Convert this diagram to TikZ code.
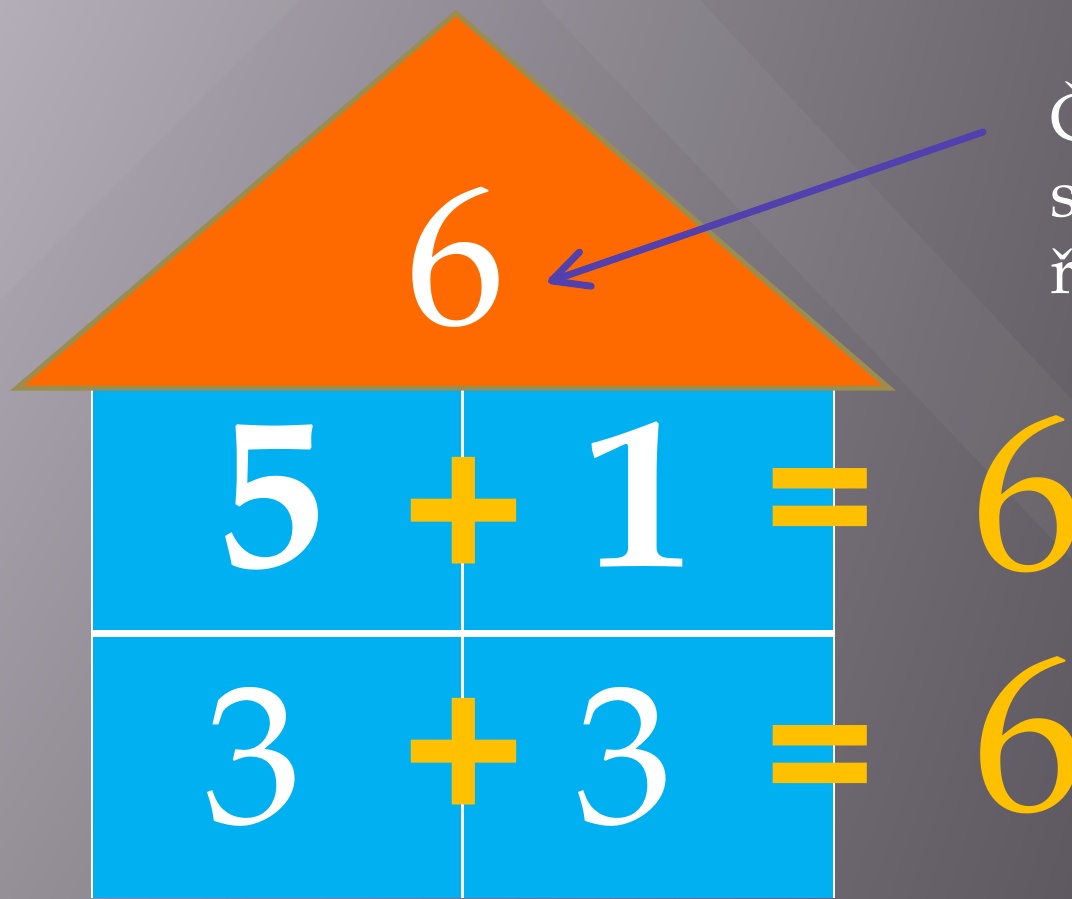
\documentclass[tikz,border=0pt]{standalone}
\usepackage{fontspec}
\setmainfont{TeX Gyre Pagella}
\newfontfamily\opfont{Liberation Sans}
\newfontfamily\eqfont{Carlito}
\usetikzlibrary{arrows.meta,shadings}
\definecolor{roof}{HTML}{FF6A00}
\definecolor{roofline}{HTML}{9C8C4E}
\definecolor{wall}{HTML}{00B0F0}
\definecolor{yel}{HTML}{FFC000}
\definecolor{arr}{HTML}{5140AE}
\definecolor{bgTL}{HTML}{B0ABB5}
\definecolor{bgTR}{HTML}{6C676E}
\definecolor{bgBL}{HTML}{959098}
\definecolor{bgBR}{HTML}{5E5960}
\tikzset{
  digit/.style={text=white, inner sep=0pt, anchor=base},
  result/.style={text=yel, inner sep=0pt, anchor=base, font=\fontsize{222}{222}\selectfont},
  plusop/.style={text=yel, inner sep=0pt, anchor=base, font=\opfont\bfseries\fontsize{210}{210}\selectfont},
  eqop/.style={text=yel, inner sep=0pt, anchor=base, font=\eqfont\bfseries\fontsize{224}{224}\selectfont},
  sidetext/.style={text=white, inner sep=0pt, anchor=base west, font=\fontsize{66}{66}\selectfont},
  gridline/.style={draw=white},
  pointer/.style={draw=arr, line width=7pt, line cap=round, line join=round, -{Straight Barb[length=36pt,width=36pt,round]}}
}
\begin{document}
\begin{tikzpicture}[x=1pt,y=-1pt]
\useasboundingbox (0,0) rectangle (1072,898);
\begin{scope}
\clip (0,0) rectangle (1072,898);
% background
\shade[upper left=bgTL, upper right=bgTR, lower left=bgBL, lower right=bgBR] (0,0) rectangle (1072,898);
\fill[white, opacity=0.04] (540,0) -- (700,0) -- (1072,400) -- (1072,560) -- cycle;
\fill[white, opacity=0.04] (0,0) -- (300,0) -- (0,300) -- cycle;
% walls
\fill[wall] (93,389) rectangle (834,898);
\draw[gridline, line width=2pt] (92,389) -- (92,898);
\draw[gridline, line width=2pt] (834,389) -- (834,898);
\draw[gridline, line width=3pt] (462,389) -- (462,898);
\draw[gridline, line width=7pt] (93,633) -- (834,633);
% roof
\filldraw[fill=roof, draw=roofline, line width=5pt, line join=miter] (17,388) -- (456,13) -- (889,388) -- cycle;
\node[digit, font=\fontsize{198}{198}\selectfont] (top) at (456,323) {6};
% row 1
\node[digit, font=\bfseries\fontsize{216}{216}\selectfont] (a1) at (270,566) {5};
\node[plusop] (p1) at (464,580) {+};
\node[digit, font=\bfseries\fontsize{216}{216}\selectfont] (b1) at (638,566) {1};
\node[eqop] (e1) at (820,568) {=};
\node[result] (r1) at (1028,568) {6};
% row 2
\node[digit, font=\fontsize{196}{196}\selectfont] (a2) at (253,822) {3};
\node[plusop] (p2) at (464,821) {+};
\node[digit, font=\fontsize{196}{196}\selectfont] (b2) at (624,822) {3};
\node[eqop] (e2) at (820,825) {=};
\node[result] (r2) at (1029,809) {6};
% side text
\node[sidetext] (side1) at (1050,140) {Č};
\node[sidetext] (side2) at (1050,216) {s};
\node[sidetext] (side3) at (1050,293) {ř};
% arrow
\coordinate (arrS) at (983,132);
\coordinate (arrE) at (548,282);
\draw[pointer] (arrS) -- (arrE);
\end{scope}
\end{tikzpicture}
\end{document}
